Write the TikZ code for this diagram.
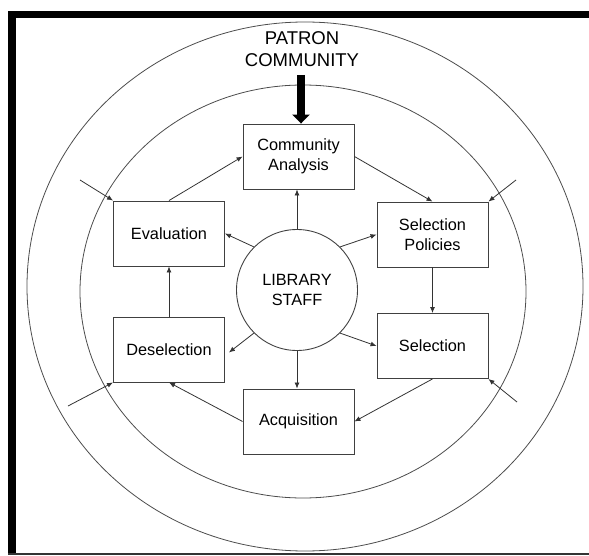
\documentclass[tikz,border=0pt]{standalone}
\usepackage{fontspec}
\setmainfont{Liberation Sans}
\usetikzlibrary{arrows.meta,calc}
\begin{document}
\begin{tikzpicture}[x=1pt,y=-1pt,
  ring/.style={draw=black!70,line width=0.8pt},
  stepbox/.style={draw=black!75,line width=0.9pt,minimum width=111pt,minimum height=65pt,inner sep=0pt,align=center,font=\fontsize{16.3}{20}\selectfont,text=black},
  staff/.style={circle,draw=black!75,line width=0.9pt,minimum size=121pt,inner sep=0pt,align=center,font=\fontsize{16.3}{20}\selectfont,text=black},
  flow/.style={draw=black!80,line width=0.8pt,-{Latex[length=6pt,width=5pt]}},
  bigarrow/.style={draw=black,line width=8pt,-{Triangle[length=9pt,width=17pt]}}
]
\useasboundingbox (0,0) rectangle (589,556);
% frame
\fill[black] (8,11) rectangle (589,18);
\fill[black] (8,11) rectangle (16,555);
\fill[black!80] (8,553) rectangle (589,555);
% rings
\draw[ring] (305,286.5) ellipse [x radius=278, y radius=264.5];
\draw[ring] (303,291.5) ellipse [x radius=223, y radius=206.5];
% title
\node[align=center,font=\fontsize{18.5}{22}\selectfont,text=black] (patron) at (302,49) {PATRON\\COMMUNITY};
% boxes
\node[stepbox] (ca) at (298.5,156.5) {Community\\Analysis};
\node[stepbox] (sp) at (432.5,234.5) {Selection\\Policies};
\node[stepbox] (sel) at (432.5,346) {Selection};
\node[stepbox] (acq) at (298.5,421.5) {Acquisition};
\node[stepbox] (des) at (169,349.5) {Deselection};
\node[stepbox] (eval) at (169,233.5) {Evaluation};
\node[staff] (st) at (297,290) {LIBRARY\\STAFF};
% thick arrow
\coordinate (ptop) at (301,75);
\draw[bigarrow] (ptop) -- (ptop |- ca.north);
% cycle
\draw[flow] (eval.north) -- (ca.west);
\draw[flow] (ca.east) -- (sp.north);
\draw[flow] (sp.south) -- (sel.north);
\draw[flow] (sel.south) -- (acq.east);
\draw[flow] (acq.west) -- (des.south);
\draw[flow] (des.north) -- (eval.south);
% staff spokes
\draw[flow] (st.north) -- (st.north |- ca.south);
\draw[flow] (st.south) -- (st.south |- acq.north);
\draw[flow] (st.135) -- (eval.east);
\draw[flow] (st.45) -- (sp.west);
\draw[flow] (st.225) -- ($(des.east)+(4,3)$);
\draw[flow] (st.315) -- (sel.west);
% outside arrows
\coordinate (ul) at (80,180);
\coordinate (ll) at (68,406);
\coordinate (ur) at (516,180);
\coordinate (lr) at (517,402);
\draw[flow] (ul) -- (eval.north west);
\draw[flow] (ll) -- (des.south west);
\draw[flow] (ur) -- (sp.north east);
\draw[flow] (lr) -- (sel.south east);
\end{tikzpicture}
\end{document}
